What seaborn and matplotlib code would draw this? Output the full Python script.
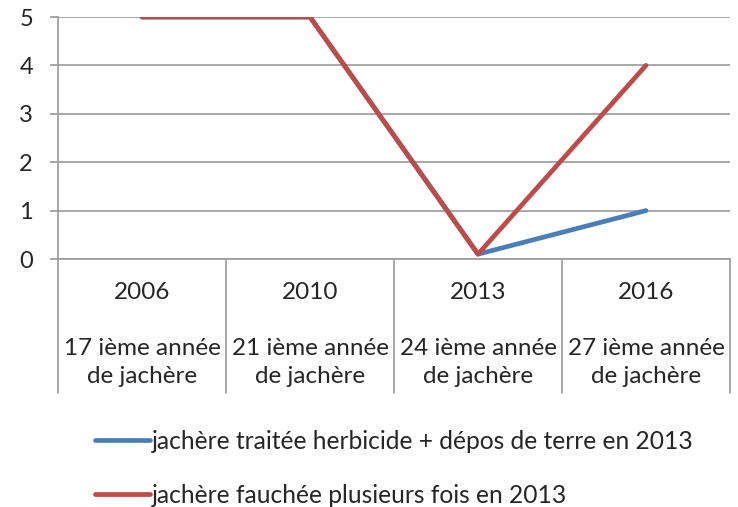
import numpy as np
import pandas as pd
import matplotlib
matplotlib.use("Agg")
import matplotlib.pyplot as plt
import seaborn as sns

annees = ["2006", "2010", "2013", "2016"]
annees_jachere = ["17 ième année\nde jachère", "21 ième année\nde jachère",
                  "24 ième année\nde jachère", "27 ième année\nde jachère"]
serie_herbicide = [5, 5, 0.1, 1]
serie_fauchee = [5, 5, 0.1, 4]
nom_herbicide = "jachère traitée herbicide + dépos de terre en 2013"
nom_fauchee = "jachère fauchée plusieurs fois en 2013"

df = pd.DataFrame({
    "pos": list(range(len(annees))) * 2,
    "valeur": serie_herbicide + serie_fauchee,
    "serie": [nom_herbicide] * len(annees) + [nom_fauchee] * len(annees),
})

sns.set_style("white")
plt.rcParams["font.family"] = ["Lato", "DejaVu Sans"]

fig = plt.figure(figsize=(7.38, 5.07), dpi=100)
ax = fig.add_axes([58 / 738, 1 - 259 / 507, (730 - 58) / 738, (259 - 17) / 507])

couleurs = {nom_herbicide: "#4A7EBB", nom_fauchee: "#BE4B48"}
sns.lineplot(data=df, x="pos", y="valeur", hue="serie", palette=couleurs,
             linewidth=3.4, ax=ax, legend=True)
for l in ax.lines:
    l.set_solid_capstyle("round")

ax.set_xlim(-0.5, len(annees) - 0.5)
ax.set_ylim(0, 5)
ax.set_yticks(range(0, 6))
ax.set_xticks([])
ax.set_xlabel("")
ax.set_ylabel("")
ax.yaxis.grid(True, color="#999999", linewidth=1.2)
ax.set_axisbelow(True)
for s in ["top", "right"]:
    ax.spines[s].set_visible(False)
for s in ["left", "bottom"]:
    ax.spines[s].set_color("#999999")
    ax.spines[s].set_linewidth(1.2)
ax.tick_params(axis="y", left=True, length=6, color="#999999", width=1.2,
               labelsize=17, pad=12)

# axe des categories a deux niveaux
trans = ax.get_xaxis_transform()
for i in range(len(annees) + 1):
    ax.plot([i - 0.5, i - 0.5], [0, -0.555], transform=trans, color="#999999",
            linewidth=1.2, clip_on=False)
for i, (a, j) in enumerate(zip(annees, annees_jachere)):
    ax.text(i, -0.14, a, transform=trans, ha="center", va="center", fontsize=17.5)
    ax.text(i, -0.428, j, transform=trans, ha="center", va="center", fontsize=17.5,
            linespacing=1.45)

h, lab = ax.get_legend_handles_labels()
ax.legend(h, lab, loc="upper left", bbox_to_anchor=(95 / 738, 1 - 430 / 507),
          bbox_transform=fig.transFigure, frameon=False, fontsize=17.7,
          handlelength=2.25, handletextpad=0.08, labelspacing=1.25,
          borderaxespad=0, borderpad=0)

fig.savefig("out.png", dpi=100)
